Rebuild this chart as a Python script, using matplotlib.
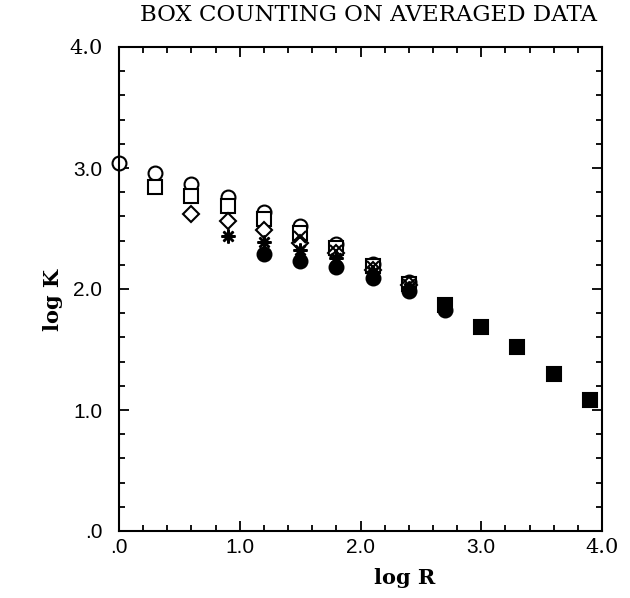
import matplotlib
matplotlib.use("Agg")
import matplotlib.pyplot as plt
from matplotlib.ticker import MultipleLocator, FixedLocator

# ---- data ----
circle_x = [0.0, 0.3, 0.6, 0.9, 1.2, 1.5, 1.8, 2.1, 2.4]
circle_y = [3.04, 2.96, 2.87, 2.76, 2.64, 2.52, 2.37, 2.21, 2.06]

square_x = [0.3, 0.6, 0.9, 1.2, 1.5, 1.8, 2.1, 2.4]
square_y = [2.84, 2.77, 2.69, 2.58, 2.46, 2.34, 2.19, 2.04]

diamond_x = [0.6, 0.9, 1.2, 1.5, 1.8, 2.1, 2.4]
diamond_y = [2.62, 2.56, 2.49, 2.38, 2.30, 2.16, 2.03]

star_x = [0.9, 1.2, 1.5, 1.8, 2.1, 2.4]
star_y = [2.44, 2.39, 2.32, 2.26, 2.14, 2.01]

cross_x = [1.5, 1.8, 2.1, 2.4]
cross_y = [2.43, 2.31, 2.18, 2.03]

fcircle_x = [1.2, 1.5, 1.8, 2.1, 2.4, 2.7]
fcircle_y = [2.29, 2.23, 2.18, 2.09, 1.98, 1.83]

fsquare_x = [2.7, 3.0, 3.3, 3.6, 3.9]
fsquare_y = [1.87, 1.69, 1.52, 1.30, 1.08]

tick_values = [0.0, 1.0, 2.0, 3.0, 4.0]
tick_labels = [".0", "1.0", "2.0", "3.0", "4.0"]

title_text = "BOX COUNTING ON AVERAGED DATA"
xlabel_text = "log R"
ylabel_text = "log K"

# ---- figure ----
fig = plt.figure(figsize=(6.30, 5.98), dpi=100)
ax = fig.add_axes([119/630, 67/598, 483/630, 484/598])

ms = 10
common = dict(linestyle="none", clip_on=False, markeredgecolor="black", markeredgewidth=1.5)
ax.plot(circle_x, circle_y, marker="o", markersize=ms, markerfacecolor="white", **common)
ax.plot(square_x, square_y, marker="s", markersize=ms, markerfacecolor="white", **common)
ax.plot(diamond_x, diamond_y, marker="D", markersize=ms*0.82, markerfacecolor="white", **common)
ax.plot(cross_x, cross_y, marker="x", markersize=ms*0.8, markerfacecolor="none", **common)
ax.plot(star_x, star_y, marker=(8, 2, 0), markersize=ms, color="black",
        linestyle="none", clip_on=False, markeredgewidth=1.8)
ax.plot(fcircle_x, fcircle_y, marker="o", markersize=ms, markerfacecolor="black", **common)
ax.plot(fsquare_x, fsquare_y, marker="s", markersize=ms, markerfacecolor="black", **common)

ax.set_xlim(0, 4)
ax.set_ylim(0, 4)

for sp in ax.spines.values():
    sp.set_linewidth(1.5)

ax.xaxis.set_major_locator(FixedLocator(tick_values))
ax.yaxis.set_major_locator(FixedLocator(tick_values))
ax.xaxis.set_minor_locator(MultipleLocator(0.2))
ax.yaxis.set_minor_locator(MultipleLocator(0.2))
ax.tick_params(which="both", direction="in", top=True, right=True, width=1.3)
ax.tick_params(which="major", length=7, pad=5)
ax.tick_params(which="minor", length=4.5)

ax.set_xticklabels(tick_labels)
ax.set_yticklabels(tick_labels)
for lbl in ax.get_xticklabels() + ax.get_yticklabels():
    lbl.set_fontsize(15)
    if lbl.get_text() == "4.0":
        lbl.set_family("DejaVu Serif")
    else:
        lbl.set_family("Liberation Sans")
ax.tick_params(axis="y", pad=12)

fig.text(368/630, 1 - 15/598, title_text, ha="center", va="center",
         fontsize=16.5, family="DejaVu Serif")
fig.text(405/630, 1 - 578/598, xlabel_text, ha="center", va="center",
         fontsize=15, family="DejaVu Serif", fontweight="bold")
fig.text(53/630, 1 - 300/598, ylabel_text, ha="center", va="center",
         fontsize=15, family="DejaVu Serif", fontweight="bold", rotation=90)

fig.savefig("out.png", dpi=100)
